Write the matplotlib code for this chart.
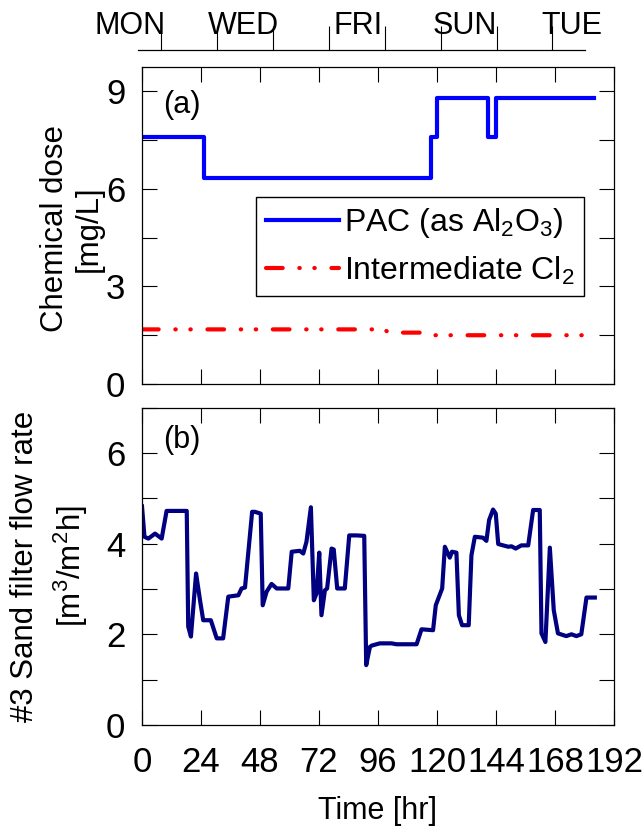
import matplotlib
matplotlib.use('Agg')
import matplotlib.pyplot as plt
from matplotlib.ticker import MultipleLocator

plt.rcParams['font.family'] = ['Liberation Sans', 'DejaVu Sans']
plt.rcParams['mathtext.fontset'] = 'custom'
plt.rcParams['mathtext.rm'] = 'Liberation Sans'
plt.rcParams['mathtext.default'] = 'regular'

# (a) chemical dose, step changes [hr, mg/L]
pac_t = [0, 25.2, 117.5, 120.1, 140.7, 143.9, 183.7]
pac_v = [7.6, 6.33, 7.6, 8.8, 7.6, 8.8, 8.8]
cl2_t = [0, 95, 99, 100.5, 117, 118.5, 183.7]
cl2_v = [1.68, 1.68, 1.65, 1.58, 1.58, 1.50, 1.50]

# (b) #3 sand filter flow rate [m3/m2h]
flow_t = [0, 1, 2.6, 5.3, 8, 10, 12, 17.6, 18.2, 18.8, 19.9, 22, 23.6, 24.9, 28,
          30.4, 33, 35.1, 39.2, 40.5, 41.9, 44.8, 45.9, 48.3, 49.1, 50.7, 52.7,
          54.8, 59.5, 60.9, 64.2, 65.6, 66.9, 68.7, 69.9, 71, 72.1, 73, 74.4,
          75.3, 77.1, 78, 79.4, 82.5, 84.3, 87.3, 90.4, 91.2, 92.7, 93.4, 96.7,
          101.5, 103.5, 111.7, 113.7, 118.4, 119.5, 122.1, 123.2, 125.2, 126.1,
          127.9, 128.9, 130.2, 132.9, 134, 135.4, 138.7, 140.1, 141.2, 142.8,
          143.9, 144.9, 146.9, 149, 150.3, 152, 154.3, 157.1, 159.1, 161.8,
          162.5, 164.1, 165.9, 167.5, 169.2, 172.6, 174.7, 176.7, 178.7, 180.8,
          184.2]
flow_v = [4.82, 4.15, 4.11, 4.22, 4.11, 4.72, 4.72, 4.72, 4.72, 2.17, 1.95, 3.34,
          2.75, 2.31, 2.31, 1.91, 1.91, 2.83, 2.86, 3.01, 3.03, 4.70, 4.70, 4.66,
          2.64, 2.94, 3.11, 3.01, 3.01, 3.82, 3.84, 3.78, 4.04, 4.80, 2.75, 2.90,
          3.80, 2.42, 2.97, 3.01, 3.89, 3.87, 3.01, 3.01, 4.18, 4.18, 4.17, 1.32,
          1.72, 1.75, 1.80, 1.80, 1.78, 1.78, 2.11, 2.09, 2.64, 3.01, 3.93, 3.69,
          3.82, 3.80, 2.42, 2.20, 2.20, 3.74, 4.15, 4.13, 4.06, 4.52, 4.75, 4.66,
          3.99, 3.96, 3.93, 3.94, 3.89, 3.96, 3.96, 4.74, 4.74, 2.02, 1.83, 3.91,
          2.53, 2.02, 1.96, 2.00, 1.96, 2.00, 2.81, 2.81]

# weekday axis on top
day_ticks = [10, 34, 58, 82, 106, 130, 154, 178]
day_names = ['MON', 'WED', 'FRI', 'SUN', 'TUE']
day_pos = [-3.4, 45.1, 94.5, 140.5, 186.4]

W, H = 644, 834
fig = plt.figure(figsize=(6.44, 8.34), dpi=100)
ax1 = fig.add_axes([142 / W, 1 - 384 / H, 472 / W, 317 / H])
ax2 = fig.add_axes([142 / W, 1 - 725 / H, 472 / W, 317.5 / H])

for ax in (ax1, ax2):
    ax.set_xlim(0, 192)
    ax.xaxis.set_major_locator(MultipleLocator(24))
    ax.tick_params(which='both', direction='in', top=True, right=True,
                   length=11, width=0.8, labelsize=25, pad=12)
    ax.tick_params(axis='x', pad=15)
    for s in ax.spines.values():
        s.set_linewidth(0.9)

ax1.plot(pac_t, pac_v, color='#0000ff', lw=3, drawstyle='steps-post',
         label='PAC (as Al$_2$O$_3$)')
ax1.plot(cl2_t, cl2_v, color='#ff0000', lw=3, dashes=(4, 4, 0.1, 3.5, 0.1, 4),
         dash_capstyle='round', label='Intermediate Cl$_2$')
ax1.set_ylim(0, 9.75)
ax1.yaxis.set_major_locator(MultipleLocator(3))
ax1.yaxis.set_minor_locator(MultipleLocator(1.5))
ax1.tick_params(labelbottom=False)
ax1.set_ylabel('Chemical dose\n[mg/L]', fontsize=22.5)
ax1.yaxis.set_label_coords(-0.08, 0.49)
ax1.text(0.045, 0.88, '(a)', transform=ax1.transAxes, fontsize=22,
         ha='left', va='center')
leg = ax1.legend(loc='upper left', bbox_to_anchor=(0.242, 0.591), borderaxespad=0,
                 fontsize=23, handlelength=2.3, handletextpad=0.15, borderpad=0.3,
                 labelspacing=0.45, fancybox=False, framealpha=1, edgecolor='black')
leg.get_frame().set_linewidth(1.0)

ax2.plot(flow_t, flow_v, color='#000080', lw=3)
ax2.set_ylim(0, 7)
ax2.yaxis.set_major_locator(MultipleLocator(2))
ax2.yaxis.set_minor_locator(MultipleLocator(1))
ax2.set_ylabel('#3 Sand filter flow rate\n[m$^3$/m$^2$h]', fontsize=22.5,
               linespacing=1.4)
ax2.yaxis.set_label_coords(-0.11, 0.5)
ax2.set_xlabel('Time [hr]', fontsize=22, labelpad=12)
ax2.text(0.045, 0.898, '(b)', transform=ax2.transAxes, fontsize=22,
         ha='left', va='center')

# day-of-week strip
axd = fig.add_axes([138 / W, 1 - 50 / H, 447 / W, 0.001])
for k in ('left', 'right', 'top'):
    axd.spines[k].set_visible(False)
axd.spines['bottom'].set_linewidth(0.9)
axd.set_xlim(0, 192)
axd.set_yticks([])
axd.set_xticks(day_ticks)
axd.tick_params(axis='x', direction='in', length=17, width=0.8, labelbottom=False)
for name, x in zip(day_names, day_pos):
    axd.annotate(name, xy=(x, 0), xycoords=('data', 'axes fraction'),
                 xytext=(0, 17), textcoords='offset points',
                 ha='center', va='center', fontsize=22)

fig.savefig('out.png', dpi=100)
